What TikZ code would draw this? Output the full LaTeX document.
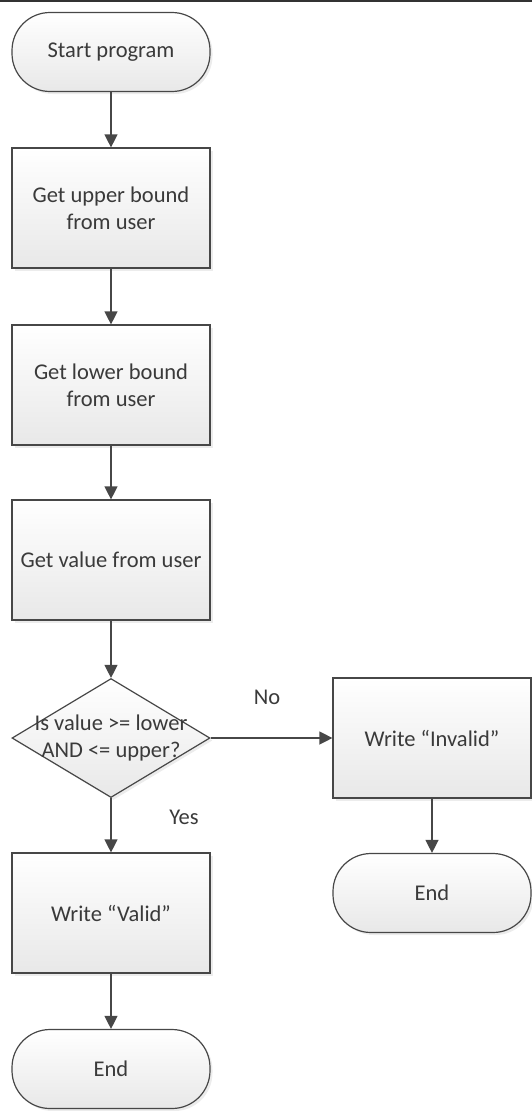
\documentclass[tikz,border=0pt]{standalone}
\usepackage{fontspec}
\setmainfont{Carlito}
\usepackage{tikz}
\usetikzlibrary{arrows.meta,shapes.geometric,shadows}

\definecolor{linegray}{HTML}{474747}
\definecolor{textgray}{HTML}{3A3A3A}

\begin{document}
\begin{tikzpicture}[x=1pt,y=-1pt,
  every node/.style={font=\fontsize{22.5}{27}\selectfont, text=textgray},
  shade/.style={draw=linegray, line width=1.2pt, top color=white, bottom color=black!9,
    drop shadow={opacity=0.15, shadow xshift=2.5pt, shadow yshift=-2.5pt}},
  stepbox/.style={shade, rectangle, minimum width=198pt, minimum height=120pt, inner sep=0pt, align=center},
  term/.style={shade, rectangle, rounded corners=38pt, minimum width=198pt, minimum height=79pt, inner sep=0pt},
  flow/.style={draw=linegray, line width=1.3pt, -{Triangle[width=13pt,length=13pt]}}]
  \useasboundingbox (0,0) rectangle (532,1111);
  % Top rule
  \draw[black!80, line width=2pt] (0,1) -- (532,1);
  % Main column
  \node[term] (start) at (111,52) {Start program};
  \node[stepbox] (upper) at (111,208) {Get upper bound\\from user};
  \node[stepbox] (lower) at (111,385) {Get lower bound\\from user};
  \node[stepbox] (value) at (111,560) {Get value from user};
  \node[shade, diamond, minimum width=198pt, minimum height=119pt, inner sep=0pt] (check) at (111,738) {};
  \node[align=center] (checktext) at (check) {Is value >= lower\\AND <= upper?};
  \node[stepbox] (valid) at (111,913) {Write “Valid”};
  \node[term] (endvalid) at (111,1069) {End};
  % Right column
  \node[stepbox] (invalid) at (432,738) {Write “Invalid”};
  \node[term] (endinvalid) at (432,893) {End};
  % Labels
  \node (no) at (267,697) {No};
  \node (yes) at (184,817) {Yes};
  % Arrows
  \draw[flow] (start) -- (upper);
  \draw[flow] (upper) -- (lower);
  \draw[flow] (lower) -- (value);
  \draw[flow] (value) -- (check);
  \draw[flow] (check) -- (valid);
  \draw[flow] (valid) -- (endvalid);
  \draw[flow] (check.east) -- (invalid.west);
  \draw[flow] (invalid) -- (endinvalid);
\end{tikzpicture}
\end{document}
